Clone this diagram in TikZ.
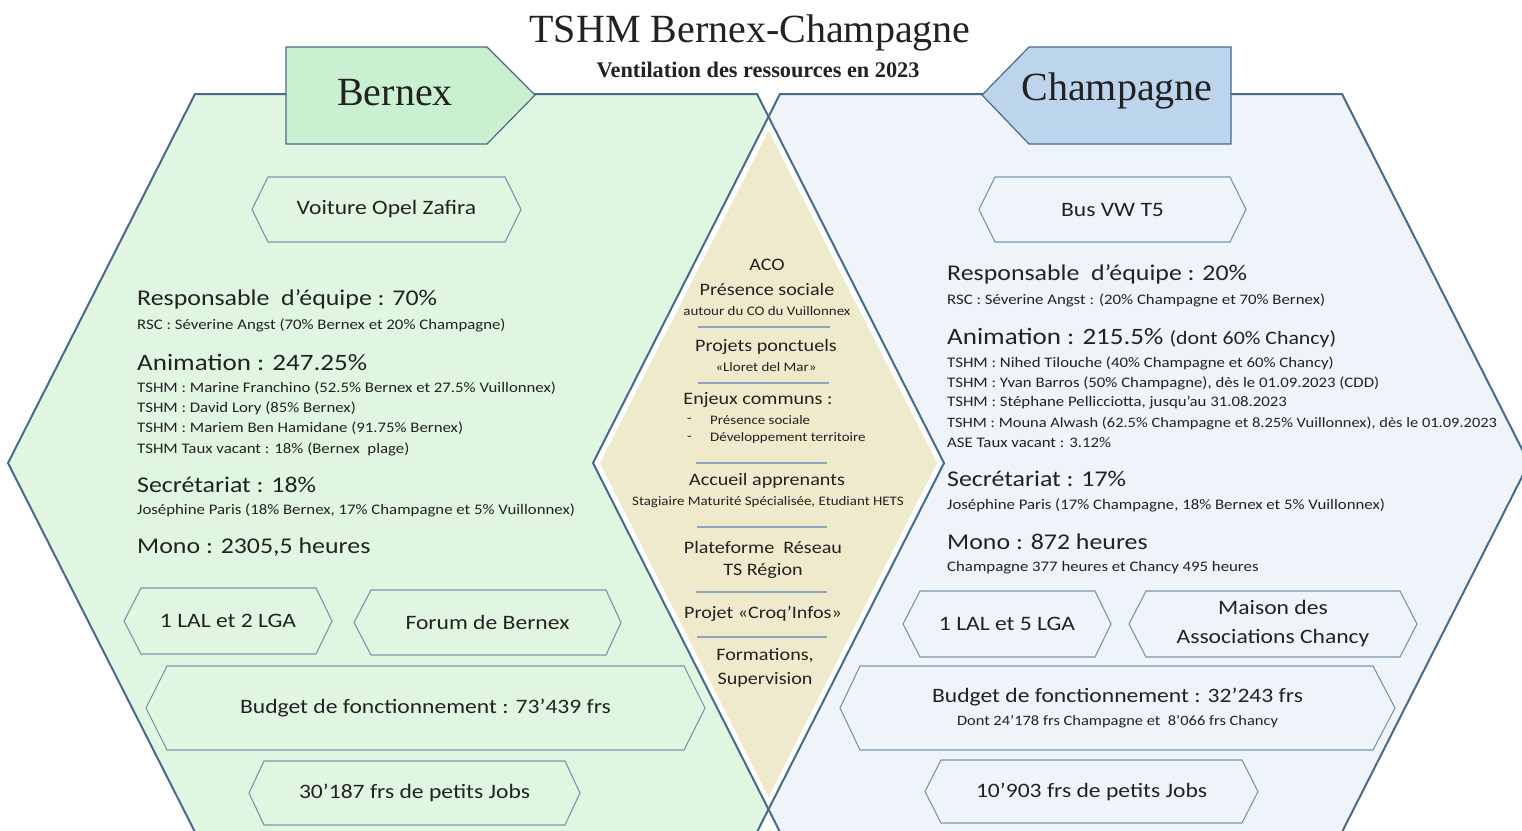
\documentclass[tikz,border=0pt]{standalone}
\usepackage{fontspec}
\setmainfont{Carlito}[FakeStretch=1.15]
\newfontfamily\titlefont{Liberation Serif}
\definecolor{hexline}{HTML}{4A6A8A}
\definecolor{leftbg}{HTML}{E0F6E0}
\definecolor{rightbg}{HTML}{EEF4FA}
\definecolor{tanbg}{HTML}{EFEACB}
\definecolor{boxln}{HTML}{7A95B0}
\definecolor{bernexfill}{HTML}{C9F0D0}
\definecolor{champfill}{HTML}{BCD5EC}
\definecolor{txt}{HTML}{222222}
\definecolor{sepline}{HTML}{8CA6BF}
\newcommand\hexbx[7]{%
  \draw[boxshape] (#2,{(#6+#7)/2}) -- (#3,#6) -- (#4,#6) -- (#5,{(#6+#7)/2}) -- (#4,#7) -- (#3,#7) -- cycle;
  \coordinate (#1) at ({(#2+#5)/2},{(#6+#7)/2});
}
\tikzset{
  boxshape/.style={draw=boxln, line width=1.1pt},
  hexout/.style={draw=hexline, line width=2pt, line join=miter},
  lt/.style={anchor=west, inner sep=0pt, text=txt},
  ct/.style={anchor=center, inner sep=0pt, text=txt, align=center},
  big/.style={font=\fontsize{22.5}{27}\selectfont},
  bigger/.style={font=\fontsize{23.5}{28}\selectfont},
  sm/.style={font=\fontsize{14.6}{17}\selectfont},
  boxtxt/.style={ct, font=\fontsize{20.5}{29}\selectfont},
  mid/.style={ct, font=\fontsize{17.5}{21}\selectfont},
  midsm/.style={ct, font=\fontsize{13}{15}\selectfont},
  sep/.style={draw=sepline, line width=1.2pt},
}
\begin{document}
\begin{tikzpicture}[x=1pt, y=-1pt]
\useasboundingbox (0,0) rectangle (1522,830);
\begin{scope}
\clip (0,0) rectangle (1522,830);
\fill[white] (0,0) rectangle (1522,830);
% hexagon fills
\fill[leftbg] (195,94) -- (757,94) -- (944,463) -- (757,832) -- (195,832) -- (8,463) -- cycle;
\fill[rightbg] (780,94) -- (1342,94) -- (1529,463) -- (1342,832) -- (780,832) -- (593,463) -- cycle;
% intersection
\fill[white] (768.5,116.7) -- (944,463) -- (768.5,809) -- (593,463) -- cycle;
\fill[tanbg] (768.5,131) -- (937,463) -- (768.5,797) -- (600,463) -- cycle;
% outlines
\draw[hexout] (195,94) -- (757,94) -- (944,463) -- (757,832) -- (195,832) -- (8,463) -- cycle;
\draw[hexout] (780,94) -- (1342,94) -- (1529,463) -- (1342,832) -- (780,832) -- (593,463) -- cycle;
\end{scope}

% title
\node[ct, font=\titlefont\fontsize{40}{44}\selectfont] (title) at (750,33) {TSHM Bernex-Champagne};
\node[ct, font=\titlefont\bfseries\fontsize{22.3}{25}\selectfont] (subtitle) at (758,70) {Ventilation des ressources en 2023};

% label boxes
\draw[fill=bernexfill, draw=hexline, line width=1.2pt] (286,47) -- (487,47) -- (535,95) -- (487,144) -- (286,144) -- cycle;
\node[ct, font=\titlefont\fontsize{40}{42}\selectfont] (bernex) at (395,93) {Bernex};
\draw[fill=champfill, draw=hexline, line width=1.2pt] (982,95) -- (1029,47) -- (1231,47) -- (1231,144) -- (1029,144) -- cycle;
\node[ct, font=\titlefont\fontsize{40}{42}\selectfont] (champagne) at (1117,91) {Champagne};

% small hex boxes left
\hexbx{voit}{252}{268}{505}{521}{177}{242}
\node[boxtxt] (voitt) at (voit) {Voiture Opel Zafira};
\hexbx{lal}{124}{141}{316}{332}{588}{654}
\node[boxtxt] (lalt) at (lal) {1 LAL et 2 LGA};
\hexbx{forum}{354}{371}{606}{621}{590}{655}
\node[boxtxt] (forumt) at (forum) {Forum de Bernex};
\hexbx{budg}{146}{167}{684}{705}{666}{750}
\node[boxtxt] (budgt) at (budg) {Budget de fonctionnement : 73’439 frs};
\hexbx{jobs}{249}{264}{565}{580}{761}{825}
\node[boxtxt] (jobst) at (jobs) {30’187 frs de petits Jobs};

% small hex boxes right
\hexbx{bus}{979}{995}{1230}{1246}{177}{242}
\node[boxtxt] (bust) at (bus) {Bus VW T5};
\hexbx{lalr}{903}{920}{1095}{1111}{591}{657}
\node[boxtxt] (lalrt) at (lalr) {1 LAL et 5 LGA};
\hexbx{maison}{1129}{1146}{1400}{1417}{591}{657}
\node[boxtxt] (maisont) at (maison) {Maison des\\Associations Chancy};
\hexbx{budgr}{840}{860}{1373}{1395}{666}{750}
\node[boxtxt] (budgrt) at ([yshift=11]budgr) {Budget de fonctionnement : 32’243 frs};
\node[ct, font=\fontsize{14.3}{16}\selectfont] (budgrs) at ([yshift=-14]budgr) {Dont 24’178 frs Champagne et \ 8’066 frs Chancy};
\hexbx{jobsr}{925}{941}{1242}{1258}{760}{823}
\node[boxtxt] (jobsrt) at (jobsr) {10’903 frs de petits Jobs};

% left texts
\node[lt, big] (l1) at (137,299) {Responsable \ d’équipe : 70\%};
\node[lt, sm] (l2) at (137,325) {RSC : Séverine Angst (70\% Bernex et 20\% Champagne)};
\node[lt, bigger] (l3) at (137,362) {Animation : 247.25\%};
\node[lt, sm] (l4) at (137,388) {TSHM : Marine Franchino (52.5\% Bernex et 27.5\% Vuillonnex)};
\node[lt, sm] (l5) at (137,408) {TSHM : David Lory (85\% Bernex)};
\node[lt, sm] (l6) at (137,428) {TSHM : Mariem Ben Hamidane (91.75\% Bernex)};
\node[lt, sm] (l7) at (137,449) {TSHM Taux vacant : 18\% (Bernex \ plage)};
\node[lt, big] (l8) at (137,485) {Secrétariat : 18\%};
\node[lt, sm] (l9) at (137,510) {Joséphine Paris (18\% Bernex, 17\% Champagne et 5\% Vuillonnex)};
\node[lt, big] (l10) at (137,547) {Mono : 2305,5 heures};

% right texts
\node[lt, big] (r1) at (947,274) {Responsable \ d’équipe : 20\%};
\node[lt, sm] (r2) at (947,300) {RSC : Séverine Angst : (20\% Champagne et 70\% Bernex)};
\node[lt, bigger] (r3) at (947,338) {Animation : 215.5\% {\fontsize{19}{22}\selectfont(dont 60\% Chancy)}};
\node[lt, sm] (r4) at (947,363) {TSHM : Nihed Tilouche (40\% Champagne et 60\% Chancy)};
\node[lt, sm] (r5) at (947,383) {TSHM : Yvan Barros (50\% Champagne), dès le 01.09.2023 (CDD)};
\node[lt, sm] (r6) at (947,403) {TSHM : Stéphane Pellicciotta, jusqu’au 31.08.2023};
\node[lt, font=\fontsize{14.3}{17}\selectfont] (r7) at (947,423) {TSHM : Mouna Alwash (62.5\% Champagne et 8.25\% Vuillonnex), dès le 01.09.2023};
\node[lt, sm] (r8) at (947,443) {ASE Taux vacant : 3.12\%};
\node[lt, big] (r9) at (947,479) {Secrétariat : 17\%};
\node[lt, sm] (r10) at (947,505) {Joséphine Paris (17\% Champagne, 18\% Bernex et 5\% Vuillonnex)};
\node[lt, big] (r11) at (947,542) {Mono : 872 heures};
\node[lt, sm] (r12) at (947,568) {Champagne 377 heures et Chancy 495 heures};

% centre
\node[mid] (c1) at (767,265) {ACO};
\node[mid] (c2) at (767,289) {Présence sociale};
\node[midsm] (c3) at (767,311) {autour du CO du Vuillonnex};
\draw[sep] (698,327) -- (830,327);
\node[mid] (c4) at (766,347) {Projets ponctuels};
\node[midsm] (c5) at (766,367) {«Lloret del Mar»};
\draw[sep] (698,383) -- (829,383);
\node[mid] (c6) at (758,400) {Enjeux communs :};
\node[lt, font=\fontsize{13}{15}\selectfont] (c7d) at (687,420) {-};
\node[lt, font=\fontsize{13}{15}\selectfont] (c7) at (710,420) {Présence sociale};
\node[lt, font=\fontsize{13}{15}\selectfont] (c8d) at (687,438) {-};
\node[lt, font=\fontsize{13}{15}\selectfont] (c8) at (710,438) {Développement territoire};
\draw[sep] (696,463) -- (827,463);
\node[mid] (c9) at (767,481) {Accueil apprenants};
\node[midsm] (c10) at (768,502) {Stagiaire Maturité Spécialisée, Etudiant HETS};
\draw[sep] (697,527) -- (827,527);
\node[mid] (c11) at (763,547) {Plateforme \ Réseau};
\node[mid] (c12) at (763,571) {TS Région};
\draw[sep] (696,592) -- (827,592);
\node[mid] (c13) at (763,614) {Projet «Croq’Infos»};
\draw[sep] (697,637) -- (827,637);
\node[mid] (c14) at (765,656) {Formations,};
\node[mid] (c15) at (765,680) {Supervision};
\end{tikzpicture}
\end{document}
